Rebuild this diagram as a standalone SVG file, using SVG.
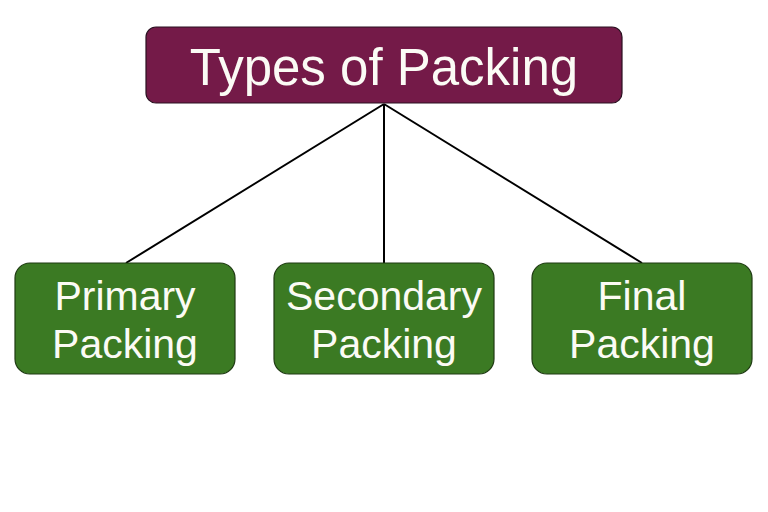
<svg xmlns="http://www.w3.org/2000/svg" width="768" height="512" viewBox="0 0 768 512">
<style>
.title{fill:#741a48;stroke:#2a1020;stroke-width:1.2}
.box{fill:#3b7a23;stroke:#1e3a12;stroke-width:1.2}
.t{font-family:"Liberation Sans",Arial,sans-serif;fill:#fbfbf5;text-anchor:middle}
.edge{stroke:#000;stroke-width:2;fill:none}
</style>
<rect width="768" height="512" fill="#fff"/>
<g id="connectors">
<line class="edge" x1="384" y1="104" x2="126" y2="263"/>
<line class="edge" x1="384" y1="104" x2="384" y2="263"/>
<line class="edge" x1="384" y1="104" x2="642" y2="263"/>
</g>
<g id="types">
<rect class="title" x="146" y="27" width="476" height="76" rx="10"/>
<text class="t" x="384" y="85" font-size="51">Types of Packing</text>
</g>
<g id="primary">
<rect class="box" x="15" y="263" width="220" height="111" rx="15"/>
<text class="t" x="125" y="310" font-size="41">Primary</text>
<text class="t" x="125" y="358" font-size="41">Packing</text>
</g>
<g id="secondary">
<rect class="box" x="274" y="263" width="220" height="111" rx="15"/>
<text class="t" x="384" y="310" font-size="41">Secondary</text>
<text class="t" x="384" y="358" font-size="41">Packing</text>
</g>
<g id="final">
<rect class="box" x="532" y="263" width="220" height="111" rx="15"/>
<text class="t" x="642" y="310" font-size="41">Final</text>
<text class="t" x="642" y="358" font-size="41">Packing</text>
</g>
</svg>
